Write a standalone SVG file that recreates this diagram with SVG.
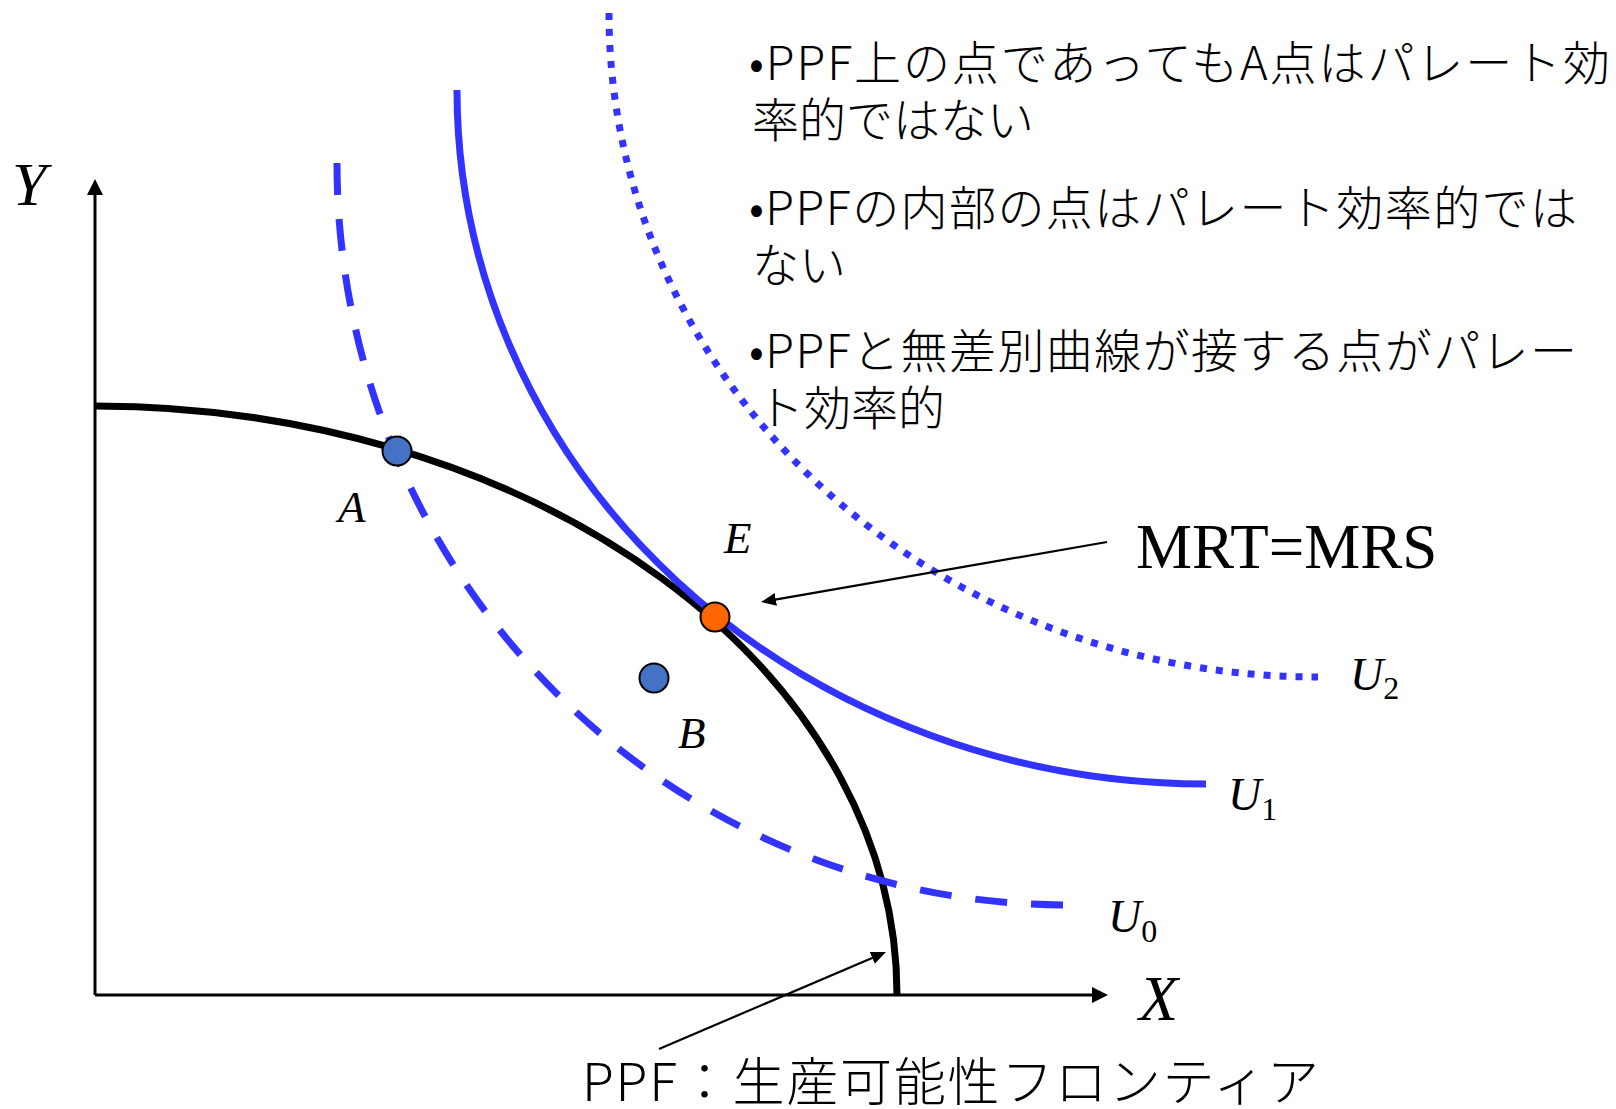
<svg xmlns="http://www.w3.org/2000/svg" width="1616" height="1109" viewBox="0 0 1616 1109">
<style>
.ax{stroke:#000;stroke-width:3;fill:none}
.ppf{stroke:#000;stroke-width:7;fill:none}
.ic{stroke:#3333FF;stroke-width:7;fill:none}
.dash{stroke-dasharray:32 24}
.dot{stroke-dasharray:7 9}
.pt{stroke:#000;stroke-width:2}
.blue{fill:#4472C4}
.orange{fill:#FF6600}
.math{font-family:"Liberation Serif","Times New Roman",serif;font-style:italic;fill:#000}
.sub{font-style:normal}
.rm{font-family:"Liberation Serif","Times New Roman",serif;fill:#000}
.jp{font-family:"Noto Sans CJK JP","Noto Sans",sans-serif;fill:#000;font-weight:300}
.conn{stroke:#000;stroke-width:2.2;fill:none}
</style>
<defs>
<marker id="axHead" markerUnits="userSpaceOnUse" markerWidth="16" markerHeight="16" refX="6" refY="8" orient="auto"><path d="M0,0 L16,8 L0,16 z" fill="#000"/></marker>
<marker id="thinHead" markerUnits="userSpaceOnUse" markerWidth="15" markerHeight="13" refX="5" refY="6.5" orient="auto"><path d="M0,0 L15,6.5 L0,13 z" fill="#000"/></marker>
</defs>
<rect width="1616" height="1109" fill="#fff"/>

<g id="axes">
<line class="ax" x1="95" y1="995" x2="95" y2="189" marker-end="url(#axHead)"/>
<line class="ax" x1="95" y1="995" x2="1098" y2="995" marker-end="url(#axHead)"/>
<text class="math" x="12" y="205" font-size="62">Y</text>
<text class="math" x="1139" y="1020" font-size="64">X</text>
</g>

<g id="ppf">
<path class="ppf" d="M95,406 A802,589 0 0 1 897,995"/>
</g>

<g id="u0">
<path class="ic dash" d="M337,163 A730,742 0 0 0 1067,905"/>
<text class="math" x="1108" y="932" font-size="46">U<tspan class="sub" font-size="32" dy="10">0</tspan></text>
</g>
<g id="u1">
<path class="ic" d="M457,90 A749,694 0 0 0 1206,784"/>
<text class="math" x="1228" y="810" font-size="46">U<tspan class="sub" font-size="32" dy="10">1</tspan></text>
</g>
<g id="u2">
<path class="ic dot" d="M609,13 A709,664 0 0 0 1318,677"/>
<text class="math" x="1350" y="690" font-size="46">U<tspan class="sub" font-size="32" dy="9">2</tspan></text>
</g>

<g id="pointA">
<circle class="pt blue" cx="397" cy="451" r="14.5"/>
<text class="math" x="338" y="522" font-size="45">A</text>
</g>
<g id="pointB">
<circle class="pt blue" cx="654" cy="678" r="14.5"/>
<text class="math" x="678" y="748" font-size="45">B</text>
</g>
<g id="pointE">
<circle class="pt orange" cx="715" cy="617" r="14.5"/>
<text class="math" x="724" y="553" font-size="45">E</text>
</g>

<g id="mrtLabel">
<text class="rm" x="1136" y="568" font-size="63">MRT=MRS</text>
</g>
<g id="ppfLabel">
<text class="jp" x="582" y="1101" font-size="52" textLength="737" lengthAdjust="spacing">PPF：生産可能性フロンティア</text>
</g>

<g id="notes" class="jp" font-size="47">
<text x="749" y="80" textLength="861" lengthAdjust="spacing">•PPF上の点であってもA点はパレート効</text>
<text x="752" y="137">率的ではない</text>
<text x="749" y="225" textLength="828" lengthAdjust="spacing">•PPFの内部の点はパレート効率的では</text>
<text x="752" y="282">ない</text>
<text x="749" y="368" textLength="828" lengthAdjust="spacing">•PPFと無差別曲線が接する点がパレー</text>
<text x="757" y="425">ト効率的</text>
</g>

<g id="connectors">
<line class="conn" x1="1107" y1="542" x2="770.9" y2="600.3" marker-end="url(#thinHead)"/>
<line class="conn" x1="659" y1="1049" x2="876.8" y2="955.9" marker-end="url(#thinHead)"/>
</g>
</svg>
